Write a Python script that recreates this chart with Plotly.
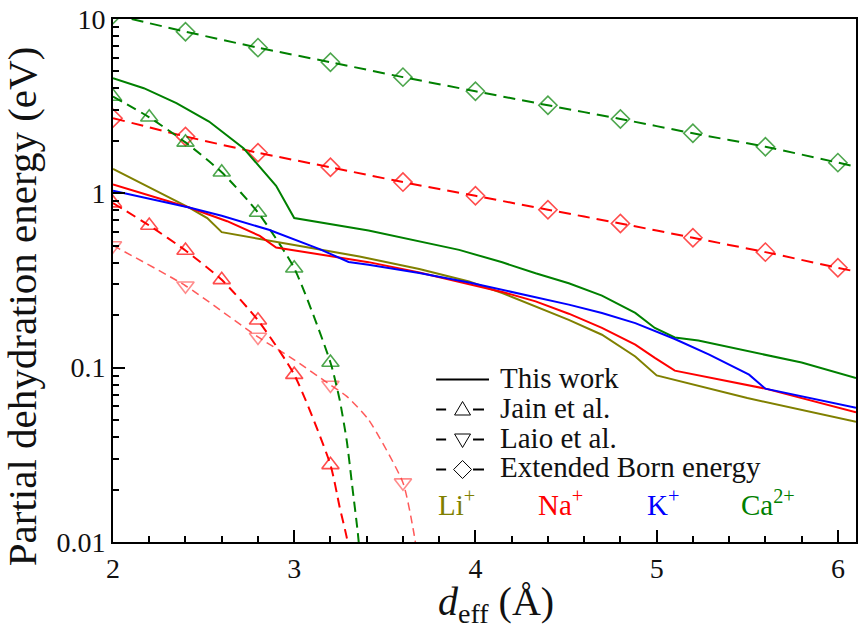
import plotly.graph_objects as go

# ---------------- data ----------------
# "This work" (solid lines)
LI_X = [2.0, 2.17, 2.42, 2.52, 2.6, 3.0, 3.36, 3.69, 3.965, 4.148, 4.332, 4.515, 4.698, 4.882, 5.0, 5.5, 6.1]
LI_Y = [1.38, 1.12, 0.829, 0.721, 0.599, 0.505, 0.434, 0.368, 0.312, 0.268, 0.224, 0.188, 0.1545, 0.116, 0.0903, 0.067, 0.0489]

NA_X = [2.0, 2.42, 2.63, 2.81, 2.9, 3.41, 3.69, 3.965, 4.148, 4.332, 4.515, 4.698, 4.882, 4.99, 5.10, 5.60, 6.1]
NA_Y = [1.125, 0.829, 0.692, 0.570, 0.489, 0.403, 0.351, 0.302, 0.272, 0.240, 0.204, 0.169, 0.1355, 0.1137, 0.0961, 0.0758, 0.0554]

K_X = [2.0, 2.42, 2.6, 2.86, 3.14, 3.30, 3.41, 3.69, 3.965, 4.148, 4.332, 4.515, 4.698, 4.882, 5.10, 5.29, 5.51, 5.60, 6.1]
K_Y = [1.035, 0.829, 0.743, 0.618, 0.479, 0.404, 0.389, 0.349, 0.308, 0.280, 0.254, 0.230, 0.206, 0.180, 0.146, 0.1187, 0.0912, 0.0758, 0.0589]

CA_X = [2.0, 2.17, 2.35, 2.53, 2.72, 2.9, 3.0, 3.41, 3.91, 4.148, 4.332, 4.515, 4.698, 4.882, 4.99, 5.10, 5.23, 5.80, 6.1]
CA_Y = [4.57, 4.01, 3.29, 2.58, 1.815, 1.104, 0.721, 0.612, 0.474, 0.402, 0.348, 0.305, 0.259, 0.206, 0.169, 0.149, 0.143, 0.107, 0.0873]

# Jain et al. (triangle-up markers at every 0.2 A, curve continues below the axis)
JAIN_MARK_X = [2.0, 2.2, 2.4, 2.6, 2.8, 3.0, 3.2]
JAIN_CA_X = [2.0, 2.2, 2.4, 2.6, 2.8, 3.0, 3.2, 3.25, 3.29, 3.32, 3.35, 3.37]
JAIN_CA_Y = [3.59, 2.73, 1.96, 1.32, 0.776, 0.372, 0.107, 0.066, 0.038, 0.021, 0.0115, 0.007]
JAIN_NA_X = [2.0, 2.2, 2.4, 2.6, 2.8, 3.0, 3.2, 3.25, 3.29, 3.32]
JAIN_NA_Y = [0.879, 0.654, 0.470, 0.319, 0.187, 0.0912, 0.0277, 0.0160, 0.0106, 0.007]

# Laio et al. (triangle-down markers at every 0.4 A)
LAIO_MARK_X = [2.0, 2.4, 2.8, 3.2, 3.6]
LAIO_NA_X = [2.0, 2.4, 2.8, 3.0, 3.2, 3.29, 3.41, 3.6, 3.66, 3.69]
LAIO_NA_Y = [0.502, 0.295, 0.150, 0.111, 0.0795, 0.0685, 0.0503, 0.0219, 0.0113, 0.007]

# Extended Born energy (diamond markers at every 0.4 A, line runs to the right edge)
BORN_MARK_X = [2.0, 2.4, 2.8, 3.2, 3.6, 4.0, 4.4, 4.8, 5.2, 5.6, 6.0]
BORN_X = [2.0, 2.4, 2.8, 3.2, 3.6, 4.0, 4.4, 4.8, 5.2, 5.6, 6.0, 6.1]
BORN_CA_Y = [10.6, 8.46, 6.85, 5.65, 4.64, 3.85, 3.20, 2.67, 2.21, 1.85, 1.50, 1.42]
BORN_NA_Y = [2.70, 2.12, 1.71, 1.41, 1.16, 0.968, 0.805, 0.672, 0.556, 0.460, 0.374, 0.356]

Y_TICKS = [0.01, 0.1, 1, 10]
Y_TICK_TEXT = ["0.01", "0.1", "1", "10"]
X_TICKS = [2, 3, 4, 5, 6]

LEGEND_LABELS = ["This work", "Jain et al.", "Laio et al.", "Extended Born energy"]
ION_LABELS = ["Li<sup>+</sup>", "Na<sup>+</sup>", "K<sup>+</sup>", "Ca<sup>2+</sup>"]

# ---------------- style ----------------
C_LI = "#808000"
C_NA = "#ff0000"
C_K = "#0000ff"
C_CA = "#008000"
C_LAIO = "rgba(255,60,60,0.85)"
ION_COLORS = [C_LI, C_NA, C_K, C_CA]
FONT = "Liberation Serif"

W, H = 859, 634
L, R, T, B = 113, 858, 19, 542


def fx(px):
    return (px - L) / (R - L)


def fy(py):
    return (B - py) / (B - T)


def sizes(xs, marks, s):
    return [s if any(abs(x - m) < 1e-9 for m in marks) else 0 for x in xs]


fig = go.Figure()


def dashed(xs, ys, marks, color, symbol, size, dash, width):
    fig.add_trace(go.Scatter(
        x=xs, y=ys, mode="lines+markers",
        line=dict(color=color, width=width, dash=dash, shape="spline", smoothing=0.6),
        marker=dict(symbol=symbol, size=sizes(xs, marks, size), color=color,
                    line=dict(width=1.6, color=color)),
        showlegend=False, hoverinfo="skip"))


dashed(BORN_X, BORN_CA_Y, BORN_MARK_X, C_CA, "diamond-open", 14, "12px,7px", 2)
dashed(BORN_X, BORN_NA_Y, BORN_MARK_X, C_NA, "diamond-open", 14, "12px,7px", 2)
dashed(LAIO_NA_X, LAIO_NA_Y, LAIO_MARK_X, C_LAIO, "triangle-down-open", 15, "8px,5px", 1.5)
dashed(JAIN_CA_X, JAIN_CA_Y, JAIN_MARK_X, C_CA, "triangle-up-open", 15, "10px,6px", 2)
dashed(JAIN_NA_X, JAIN_NA_Y, JAIN_MARK_X, C_NA, "triangle-up-open", 15, "10px,6px", 2)

# solid "This work" lines
for xs, ys, c in [(CA_X, CA_Y, C_CA), (LI_X, LI_Y, C_LI), (NA_X, NA_Y, C_NA), (K_X, K_Y, C_K)]:
    fig.add_trace(go.Scatter(x=xs, y=ys, mode="lines", line=dict(color=c, width=2),
                             showlegend=False, hoverinfo="skip"))

# ---------------- hand-drawn legend ----------------
shapes = []
annotations = []
ROWS = [379.5, 409.5, 439.5, 469.5]
MX = 463.5
shapes.append(dict(type="line", xref="paper", yref="paper", x0=fx(437), x1=fx(490),
                   y0=fy(ROWS[0]), y1=fy(ROWS[0]), line=dict(color="black", width=2)))


def poly(pts):
    s = "M " + " L ".join(f"{fx(px)},{fy(py)}" for px, py in pts) + " Z"
    return dict(type="path", xref="paper", yref="paper", path=s,
                line=dict(color="black", width=1), fillcolor="rgba(0,0,0,0)")


for i, ry in enumerate(ROWS[1:]):
    for a, b in [(437, 447), (474, 485)]:
        shapes.append(dict(type="line", xref="paper", yref="paper", x0=fx(a), x1=fx(b),
                           y0=fy(ry), y1=fy(ry), line=dict(color="black", width=2)))
    if i == 0:
        shapes.append(poly([(MX - 8, ry + 5.5), (MX + 8, ry + 5.5), (MX, ry - 8)]))
    elif i == 1:
        shapes.append(poly([(MX - 8, ry - 5.5), (MX + 8, ry - 5.5), (MX, ry + 8)]))
    else:
        shapes.append(poly([(MX - 9, ry), (MX, ry - 9), (MX + 9, ry), (MX, ry + 9)]))

for lab, ry in zip(LEGEND_LABELS, ROWS):
    annotations.append(dict(text=lab, x=fx(499), y=fy(ry - 2), xref="paper", yref="paper",
                            xanchor="left", yanchor="middle", showarrow=False,
                            font=dict(family=FONT, size=29, color="#111")))

for lab, px, c in zip(ION_LABELS, [437, 537, 646, 741], ION_COLORS):
    annotations.append(dict(text=lab, x=fx(px), y=fy(503), xref="paper", yref="paper",
                            xanchor="left", yanchor="middle", showarrow=False,
                            font=dict(family=FONT, size=29, color=c)))

# axis titles
annotations.append(dict(text="Partial dehydration energy (eV)", textangle=-90,
                        x=fx(22), y=fy(306), xref="paper", yref="paper",
                        xanchor="center", yanchor="middle", showarrow=False,
                        font=dict(family=FONT, size=41, color="#111")))
annotations.append(dict(text="<i>d</i><sub>eff</sub> (Å)",
                        x=fx(497), y=fy(604), xref="paper", yref="paper",
                        xanchor="center", yanchor="middle", showarrow=False,
                        font=dict(family=FONT, size=40, color="#111")))

minor_y = [m * d for d in (0.01, 0.1, 1) for m in range(2, 10)]

fig.update_layout(
    width=W, height=H,
    margin=dict(l=L, r=W - R, t=T, b=H - B, pad=0),
    paper_bgcolor="white", plot_bgcolor="white",
    font=dict(family=FONT, size=28, color="#111"),
    shapes=shapes, annotations=annotations,
    xaxis=dict(range=[2, 6.1], tickvals=X_TICKS, ticks="inside", ticklen=12, tickwidth=2,
               tickcolor="black", showline=True, linecolor="black", linewidth=2, mirror=True,
               showgrid=False, zeroline=False, tickfont=dict(family=FONT, size=28, color="#111"),
               minor=dict(dtick=0.2, tick0=2, ticks="inside", ticklen=6, tickwidth=1.5,
                          tickcolor="black", showgrid=False)),
    yaxis=dict(type="log", range=[-2, 1], tickvals=Y_TICKS, ticktext=Y_TICK_TEXT,
               ticks="inside", ticklen=12, tickwidth=2, tickcolor="black",
               showline=True, linecolor="black", linewidth=2, mirror=True,
               showgrid=False, zeroline=False, tickfont=dict(family=FONT, size=28, color="#111"),
               minor=dict(tickmode="array", tickvals=minor_y, ticks="inside", ticklen=6,
                          tickwidth=1.5, tickcolor="black", showgrid=False)),
)

fig.write_html("out.html", config={"displayModeBar": False},
               post_script="document.body.style.margin='0px';document.body.style.overflow='hidden';")
